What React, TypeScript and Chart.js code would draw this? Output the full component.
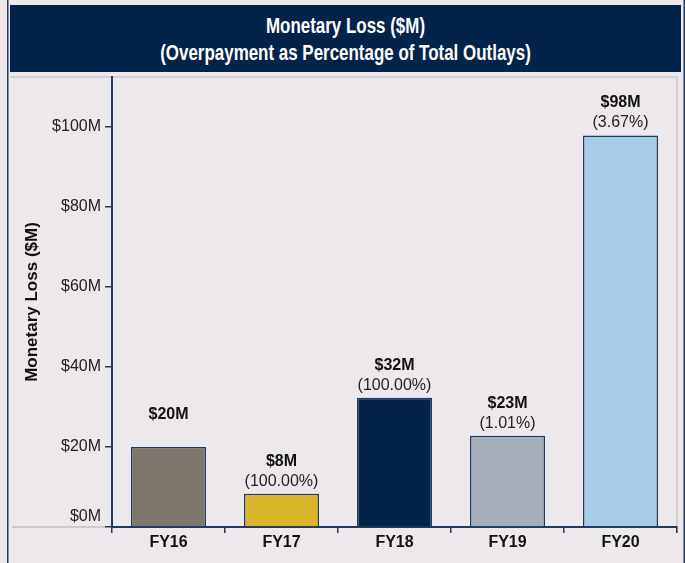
import React, { useEffect, useRef } from 'react';
import { Chart, registerables } from 'chart.js';

Chart.register(...registerables);

const categories = ['FY16', 'FY17', 'FY18', 'FY19', 'FY20'];
const lossValues = [20.0, 8.3, 32.3, 22.8, 97.9];
const valueLabels = ['$20M', '$8M', '$32M', '$23M', '$98M'];
const percentLabels = ['', '(100.00%)', '(100.00%)', '(1.01%)', '(3.67%)'];
const barColors = ['#7E776E', '#D8B52A', '#02244A', '#A4ADB8', '#A6CDE8'];
const yTickValues = [0, 20, 40, 60, 80, 100];
const yMax = 112.5;
const titleLines = ['Monetary Loss ($M)', '(Overpayment as Percentage of Total Outlays)'];
const yAxisTitle = 'Monetary Loss ($M)';

const NAVY = '#1E3A5F';
const BG = '#ECE8EC';
const FONT = '"Liberation Sans", Arial, Helvetica, sans-serif';

const tickText = (v: number) => `$${v}M`;

const framePlugin = {
  id: 'frame',
  beforeDraw(chart: any) {
    const ctx = chart.ctx;
    const { width, height } = chart;
    const area = chart.chartArea;
    ctx.save();
    ctx.fillStyle = BG;
    ctx.fillRect(0, 0, width, height);
    ctx.fillStyle = NAVY;
    ctx.fillRect(7, 0, 1.5, height);
    ctx.fillRect(width - 1.5, 0, 1.5, height);
    ctx.strokeStyle = '#D3CFD3';
    ctx.lineWidth = 2;
    ctx.beginPath();
    ctx.moveTo(10, area.top);
    ctx.lineTo(area.right + 1, area.top);
    ctx.moveTo(area.right, area.top);
    ctx.lineTo(area.right, area.bottom + 5);
    ctx.stroke();
    ctx.strokeStyle = '#CDCACD';
    ctx.beginPath();
    ctx.moveTo(12, area.bottom);
    ctx.lineTo(area.left - 6, area.bottom);
    ctx.stroke();
    ctx.restore();
  },
  afterDraw(chart: any) {
    // zero tick label sits just above the baseline
    const ctx = chart.ctx;
    const y = chart.scales.y;
    ctx.save();
    ctx.fillStyle = '#222222';
    ctx.font = `16px ${FONT}`;
    ctx.textAlign = 'right';
    ctx.textBaseline = 'middle';
    ctx.fillText(tickText(yTickValues[0]), y.right - 11, y.getPixelForValue(yTickValues[0]) - 10);
    ctx.restore();
  },
};

const labelPlugin = {
  id: 'barLabels',
  afterDatasetsDraw(chart: any) {
    const ctx = chart.ctx;
    const meta = chart.getDatasetMeta(0);
    ctx.save();
    ctx.textAlign = 'center';
    ctx.textBaseline = 'middle';
    meta.data.forEach((bar: any, i: number) => {
      ctx.fillStyle = '#111111';
      ctx.font = `bold 16px ${FONT}`;
      ctx.fillText(valueLabels[i], bar.x, bar.y - 32.5);
      if (percentLabels[i]) {
        ctx.fillStyle = '#222222';
        ctx.font = `16px ${FONT}`;
        ctx.fillText(percentLabels[i], bar.x, bar.y - 12.5);
      }
    });
    ctx.restore();
  },
};

export default function App() {
  const canvasRef = useRef<HTMLCanvasElement | null>(null);

  useEffect(() => {
    if (!canvasRef.current) return;
    const chart = new Chart(canvasRef.current, {
      type: 'bar',
      data: {
        labels: categories,
        datasets: [
          {
            data: lossValues,
            backgroundColor: barColors,
            borderColor: NAVY,
            borderWidth: 1.5,
            barPercentage: 0.664,
            categoryPercentage: 1,
          },
        ],
      },
      options: {
        responsive: false,
        animation: false,
        devicePixelRatio: 1,
        layout: { padding: { top: 77, left: 10, right: 8, bottom: 0 } },
        plugins: {
          legend: { display: false },
          tooltip: { enabled: false },
          title: { display: false },
        },
        scales: {
          x: {
            afterFit: (s: any) => {
              s.height = 36;
            },
            grid: {
              drawOnChartArea: false,
              drawTicks: true,
              tickLength: 6,
              color: NAVY,
              lineWidth: 1.5,
              offset: true,
            },
            border: { display: true, color: NAVY, width: 2 },
            ticks: {
              color: '#111111',
              font: { family: FONT, size: 16, weight: 'bold' },
              padding: 0,
            },
          },
          y: {
            min: 0,
            max: yMax,
            afterBuildTicks: (s: any) => {
              s.ticks = yTickValues.map((v) => ({ value: v }));
            },
            afterFit: (s: any) => {
              s.width = 102;
            },
            grid: {
              drawOnChartArea: false,
              drawTicks: true,
              tickLength: 7,
              color: NAVY,
              lineWidth: 1.5,
            },
            border: { display: true, color: NAVY, width: 2 },
            ticks: {
              color: '#222222',
              font: { family: FONT, size: 16 },
              padding: 4,
              callback: (v: any) => (v === yTickValues[0] ? '' : tickText(v)),
            },
            title: {
              display: true,
              text: yAxisTitle,
              color: '#111111',
              font: { family: FONT, size: 17, weight: 'bold' },
              padding: { top: 12, bottom: 0 },
            },
          },
        },
      },
      plugins: [framePlugin, labelPlugin],
    } as any);
    return () => chart.destroy();
  }, []);

  return (
    <div
      style={{
        position: 'fixed',
        left: 0,
        top: 0,
        width: 685,
        height: 563,
        background: BG,
        overflow: 'hidden',
      }}
    >
      <canvas
        ref={canvasRef}
        width={685}
        height={563}
        style={{ position: 'absolute', left: 0, top: 0, width: 685, height: 563 }}
      />
      <div
        style={{
          position: 'absolute',
          left: 10,
          top: 5,
          width: 671,
          height: 67,
          background: '#02244A',
          color: '#FFFFFF',
          fontFamily: '"Liberation Sans", Arial, sans-serif',
          fontWeight: 'bold',
          fontSize: 22,
          lineHeight: '26.5px',
          textAlign: 'center',
          paddingTop: 8,
          boxSizing: 'border-box',
        }}
      >
        {titleLines.map((t) => (
          <div key={t} style={{ transform: 'scaleX(0.77)', transformOrigin: '50% 50%', whiteSpace: 'nowrap' }}>
            {t}
          </div>
        ))}
      </div>
    </div>
  );
}
